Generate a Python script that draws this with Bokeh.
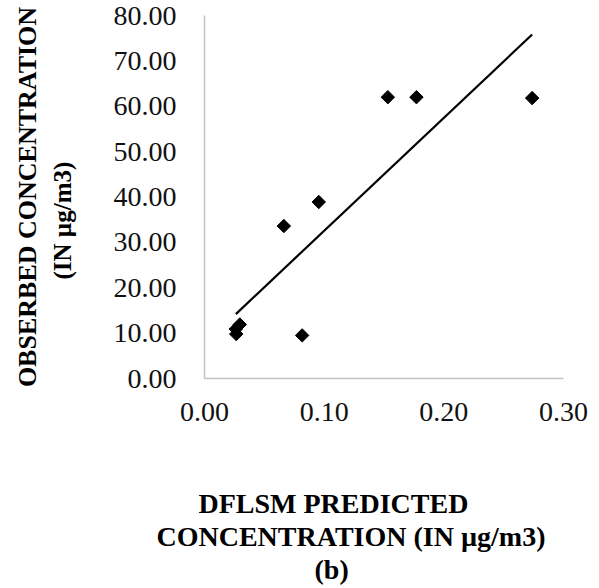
import numpy as np
from bokeh.plotting import figure
from bokeh.models import Range1d, FixedTicker, NumeralTickFormatter, Title, LinearAxis
from bokeh.embed import file_html
from bokeh.resources import INLINE

# Data
predicted = [0.0265, 0.0262, 0.0295, 0.0663, 0.0816, 0.0955, 0.1532, 0.1771, 0.2738]
observed = [9.8, 10.9, 11.9, 33.6, 9.5, 38.9, 62.0, 62.0, 61.8]
x_ticks = [0.0, 0.1, 0.2, 0.3]
y_ticks = [0, 10, 20, 30, 40, 50, 60, 70, 80]

x_title_lines = ["DFLSM PREDICTED", "CONCENTRATION (IN \u00b5g/m3)", "(b)"]
y_title_lines = ["OBSERBED CONCENTRATION", "(IN \u00b5g/m3)"]

FONT = "Liberation Serif"

p = figure(width=599, height=588, output_backend="svg", toolbar_location=None,
           x_range=Range1d(0, 0.30), y_range=Range1d(0, 80),
           min_border_left=204, min_border_right=36, min_border_top=15, min_border_bottom=210)
p.outline_line_color = None
p.xgrid.visible = False
p.ygrid.visible = False
p.background_fill_color = "white"
p.border_fill_color = "white"

for ax in (p.xaxis[0], p.yaxis[0]):
    ax.axis_line_color = "#c4c4c4"
    ax.axis_line_width = 1.5
    ax.major_tick_line_color = None
    ax.minor_tick_line_color = None
    ax.major_label_text_font = FONT
    ax.major_label_text_font_size = "28px"
    ax.major_label_text_color = "#111111"
    ax.major_tick_out = 0
    ax.major_tick_in = 0
    ax.minor_tick_out = 0
    ax.minor_tick_in = 0

p.xaxis[0].ticker = FixedTicker(ticks=x_ticks)
p.yaxis[0].ticker = FixedTicker(ticks=y_ticks)
p.xaxis[0].formatter = NumeralTickFormatter(format="0.00")
p.yaxis[0].formatter = NumeralTickFormatter(format="0.00")
p.xaxis[0].major_label_standoff = 24
p.yaxis[0].major_label_standoff = 28


def spacer(size, ticks):
    # an axis that draws nothing visible, used only to reserve space
    return LinearAxis(ticker=FixedTicker(ticks=ticks, minor_ticks=[]), major_tick_out=size,
                      major_tick_in=0, minor_tick_out=0, minor_tick_in=0,
                      major_label_standoff=0, major_label_text_font_size="1px",
                      major_label_text_color=None, major_tick_line_color="white",
                      major_tick_line_width=1, minor_tick_line_color=None,
                      axis_line_color=None)


# Trend line (least squares fit over the data)
slope, intercept = np.polyfit(predicted, observed, 1)
xs = [min(predicted), max(predicted)]
ys = [slope * v + intercept for v in xs]
p.line(xs, ys, line_color="black", line_width=2.2)

p.scatter(predicted, observed, marker="square", angle=np.pi / 4, size=9.5,
          fill_color="black", line_color="black")

# X axis title, three lines below the axis
p.add_layout(spacer(62, x_ticks), "below")
x_offsets = [-6, -48, 110]
for off, t in zip(x_offsets, x_title_lines):
    p.add_layout(Title(text=t, align="left", offset=off, standoff=0,
                       text_font=FONT, text_font_style="bold", text_font_size="28px",
                       text_color="black"), "below")

# Y axis title, two rotated lines on the left
p.add_layout(spacer(35, y_ticks), "left")
p.add_layout(Title(text=y_title_lines[1], align="left", offset=99, standoff=0,
                   text_font=FONT, text_font_style="bold", text_font_size="25px",
                   text_color="black"), "left")
p.add_layout(Title(text=y_title_lines[0], align="center", standoff=10,
                   text_font=FONT, text_font_style="bold", text_font_size="26px",
                   text_color="black"), "left")

open("out.html", "w").write(file_html(p, INLINE))
